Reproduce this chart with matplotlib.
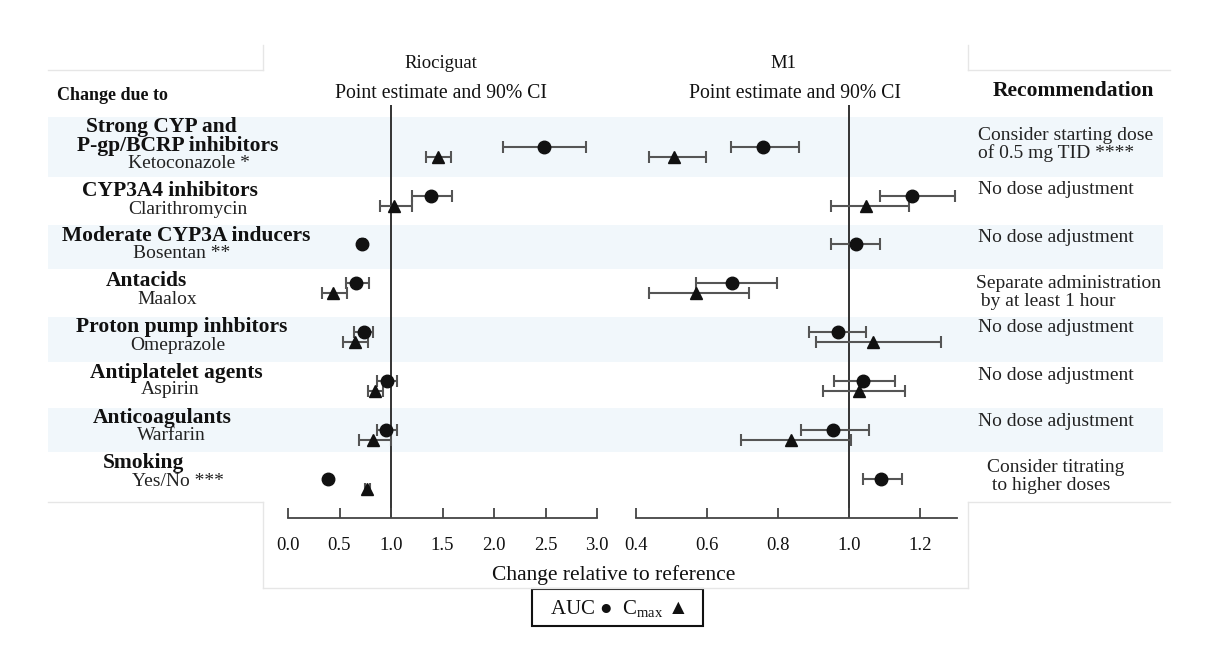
import numpy as np
import matplotlib
matplotlib.use("Agg")
import matplotlib.pyplot as plt
from matplotlib.patches import Rectangle

plt.rcParams['font.family'] = ['Liberation Serif', 'DejaVu Sans']
plt.rcParams['mathtext.fontset'] = 'custom'
plt.rcParams['mathtext.rm'] = 'Liberation Serif'

nan = np.nan

# ---- data ----
GROUPS = [["Strong CYP and", "P-gp/BCRP inhibitors"], ["CYP3A4 inhibitors"],
          ["Moderate CYP3A inducers"], ["Antacids"], ["Proton pump inhbitors"],
          ["Antiplatelet agents"], ["Anticoagulants"], ["Smoking"]]
DRUGS = ["Ketoconazole *", "Clarithromycin", "Bosentan **", "Maalox",
         "Omeprazole", "Aspirin", "Warfarin", "Yes/No ***"]
RECOMMEND = [["Consider starting dose", "of 0.5 mg TID ****"], ["No dose adjustment"],
             ["No dose adjustment"], ["Separate administration", " by at least 1 hour"],
             ["No dose adjustment"], ["No dose adjustment"], ["No dose adjustment"],
             ["Consider titrating", " to higher doses"]]

RIO_AUC = [2.49, 1.39, 0.72, 0.66, 0.74, 0.96, 0.95, 0.39]
RIO_AUC_LO = [2.09, 1.20, 0.70, 0.56, 0.64, 0.86, 0.86, nan]
RIO_AUC_HI = [2.89, 1.59, 0.75, 0.79, 0.83, 1.06, 1.06, nan]
RIO_CMAX = [1.46, 1.03, nan, 0.44, 0.65, 0.84, 0.83, 0.77]
RIO_CMAX_LO = [1.34, 0.89, nan, 0.33, 0.53, 0.78, 0.69, 0.75]
RIO_CMAX_HI = [1.58, 1.20, nan, 0.57, 0.78, 0.92, 1.00, 0.80]

M1_AUC = [0.758, 1.177, 1.020, 0.670, 0.969, 1.039, 0.955, 1.090]
M1_AUC_LO = [0.668, 1.087, 0.949, 0.569, 0.887, 0.958, 0.865, 1.039]
M1_AUC_HI = [0.859, 1.299, 1.087, 0.797, 1.048, 1.130, 1.056, 1.149]
M1_CMAX = [0.507, 1.048, nan, 0.569, 1.068, 1.028, 0.837, nan]
M1_CMAX_LO = [0.437, 0.949, nan, 0.437, 0.907, 0.927, 0.696, nan]
M1_CMAX_HI = [0.597, 1.169, nan, 0.718, 1.259, 1.158, 1.006, nan]

RIO_TICKS = [0.0, 0.5, 1.0, 1.5, 2.0, 2.5, 3.0]
M1_TICKS = [0.4, 0.6, 0.8, 1.0, 1.2]

# ---- layout (pixel coords, y down) ----
W, H = 1225, 646
ROW_Y = [152, 201, 249, 288, 337, 386, 435, 484]
OFF = 5
BANDS = [(117, 177), (225, 269), (317, 362), (408, 452)]
BOLD_X = [[86, 77], [82], [62], [106], [76], [90], [93], [103]]
BOLD_Y = [[127, 146], [191], [236], [281], [327], [373], [418], [463]]
SUB_X = [128, 128, 133, 137, 130, 141, 137, 132]
SUB_Y = [164, 209, 254, 300, 345, 390, 436, 482]
REC_X = [[978, 978], [978], [978], [976, 976], [978], [978], [978], [987, 987]]
REC_Y = [[135, 153], [190], [237], [283, 301], [328], [375], [421], [467, 485]]
AX_TOP, AX_BOT = 105, 518

fig = plt.figure(figsize=(W / 100, H / 100), dpi=100)
bg = fig.add_axes([0, 0, 1, 1], zorder=0)
bg.set_xlim(0, W); bg.set_ylim(H, 0); bg.axis("off")

for y0, y1 in BANDS:
    bg.add_patch(Rectangle((48, y0), 1163 - 48, y1 - y0, color="#f1f7fb", lw=0))

# faint table frame
grey = "#e6e6e6"
for xs, ys in [((48, 263), (70, 70)), ((263, 263), (45, 70)),
               ((968, 968), (45, 70)), ((968, 1170), (70, 70)),
               ((48, 263), (502, 502)), ((263, 263), (502, 588)),
               ((968, 1170), (502, 502)), ((968, 968), (502, 588)),
               ((263, 968), (588, 588))]:
    bg.plot(xs, ys, color=grey, lw=1)

txt = "#111111"
bg.text(57, 95, "Change due to", fontsize=13, fontweight="bold", va="center", color=txt)
bg.text(993, 91, "Recommendation", fontsize=15.5, fontweight="bold", va="center", color=txt)
bg.text(441, 64, "Riociguat", fontsize=13.5, ha="center", va="center", color=txt)
bg.text(441, 93, "Point estimate and 90% CI", fontsize=14.2, ha="center", va="center", color=txt)
bg.text(783, 64, "M1", fontsize=13.5, ha="center", va="center", color=txt)
bg.text(795, 93, "Point estimate and 90% CI", fontsize=14.2, ha="center", va="center", color=txt)

for i in range(len(GROUPS)):
    for line, x, y in zip(GROUPS[i], BOLD_X[i], BOLD_Y[i]):
        bg.text(x, y, line, fontsize=15.5, fontweight="bold", va="center", color=txt)
    bg.text(SUB_X[i], SUB_Y[i], DRUGS[i], fontsize=14, va="center", color="#222222")
    for line, x, y in zip(RECOMMEND[i], REC_X[i], REC_Y[i]):
        bg.text(x, y, line, fontsize=14, va="center", color="#222222")

bg.text(614, 575, "Change relative to reference", fontsize=15.5, ha="center", va="center", color=txt)
bg.add_patch(Rectangle((532, 589), 703 - 532, 626 - 589, fill=False, ec="#111111", lw=1.5))
bg.text(618, 609, r"AUC ●  C$_{\mathrm{max}}$ ▲", fontsize=15, ha="center", va="center", color=txt)


def panel(left, right, xlim, ticks, auc, auc_lo, auc_hi, cmax, cmax_lo, cmax_hi):
    ax = fig.add_axes([left / W, 1 - AX_BOT / H, (right - left) / W, (AX_BOT - AX_TOP) / H], zorder=1)
    ax.set_facecolor("none")
    ax.set_xlim(*xlim); ax.set_ylim(AX_BOT, AX_TOP)
    ax.axvline(1.0, color="#333333", lw=1.4, zorder=1)
    rows = np.array(ROW_Y, dtype=float)
    for vals, lo, hi, dy, mk in [(auc, auc_lo, auc_hi, -OFF, "o"),
                                 (cmax, cmax_lo, cmax_hi, OFF, "^")]:
        v = np.array(vals); lo = np.array(lo); hi = np.array(hi)
        ci = np.isfinite(v) & np.isfinite(lo)
        ax.errorbar(v[ci], rows[ci] + dy, xerr=[v[ci] - lo[ci], hi[ci] - v[ci]],
                    fmt=mk, ms=9, mfc="#111111", mec="#111111", ecolor="#555555",
                    elinewidth=1.5, capsize=4, capthick=1.5, zorder=3)
        only = np.isfinite(v) & ~np.isfinite(lo)
        ax.plot(v[only], rows[only] + dy, mk, ms=9, color="#111111", zorder=3)
    for sp in ("top", "right", "left"):
        ax.spines[sp].set_visible(False)
    ax.spines["bottom"].set_color("#444444"); ax.spines["bottom"].set_linewidth(1.3)
    ax.set_yticks([])
    ax.set_xticks(ticks)
    ax.set_xticklabels([f"{t:.1f}" for t in ticks], fontsize=13.5, color=txt)
    ax.tick_params(axis="x", direction="in", length=7, width=1.3, color="#444444", pad=14)
    return ax


panel(288, 597, (0.0, 3.0), RIO_TICKS, RIO_AUC, RIO_AUC_LO, RIO_AUC_HI,
      RIO_CMAX, RIO_CMAX_LO, RIO_CMAX_HI)
panel(636, 957, (0.4, 0.4 + 321 / 355), M1_TICKS, M1_AUC, M1_AUC_LO, M1_AUC_HI,
      M1_CMAX, M1_CMAX_LO, M1_CMAX_HI)

fig.savefig("out.png", dpi=100, facecolor="white")
